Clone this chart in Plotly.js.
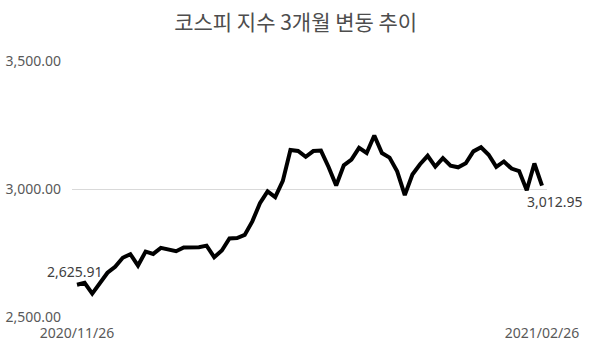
<!DOCTYPE html>
<html>
<head>
<meta charset="utf-8">
<script src="https://cdn.plot.ly/plotly-3.0.1.min.js"></script>
<style>html,body{margin:0;padding:0;background:#fff;}#chart{width:595px;height:351px;}</style>
</head>
<body>
<div id="chart"></div>
<script>
const dates = ["2020/11/26","2020/11/27","2020/11/30","2020/12/01","2020/12/02","2020/12/03","2020/12/04","2020/12/07","2020/12/08","2020/12/09","2020/12/10","2020/12/11","2020/12/14","2020/12/15","2020/12/16","2020/12/17","2020/12/18","2020/12/21","2020/12/22","2020/12/23","2020/12/24","2020/12/28","2020/12/29","2020/12/30","2021/01/04","2021/01/05","2021/01/06","2021/01/07","2021/01/08","2021/01/11","2021/01/12","2021/01/13","2021/01/14","2021/01/15","2021/01/18","2021/01/19","2021/01/20","2021/01/21","2021/01/22","2021/01/25","2021/01/26","2021/01/27","2021/01/28","2021/01/29","2021/02/01","2021/02/02","2021/02/03","2021/02/04","2021/02/05","2021/02/08","2021/02/09","2021/02/10","2021/02/15","2021/02/16","2021/02/17","2021/02/18","2021/02/19","2021/02/22","2021/02/23","2021/02/24","2021/02/25","2021/02/26"];
const kospi = [2625.91,2633.45,2591.34,2634.25,2672.76,2696.22,2731.45,2745.44,2700.93,2755.47,2746.46,2770.06,2762.20,2756.82,2771.79,2770.43,2772.18,2778.65,2733.68,2759.82,2806.86,2808.60,2820.51,2873.47,2944.45,2990.57,2968.21,3031.68,3152.18,3148.45,3125.95,3148.29,3149.93,3085.90,3013.93,3092.66,3114.55,3160.84,3140.63,3208.99,3140.31,3122.56,3069.05,2976.21,3056.53,3096.81,3129.68,3087.55,3120.63,3091.24,3084.67,3100.58,3147.00,3163.25,3133.73,3086.66,3107.62,3079.75,3070.09,2994.98,3099.69,3012.95];
const yTicks = [2500, 3000, 3500];
const yTickLabels = ["2,500.00", "3,000.00", "3,500.00"];
const xTickLabels = [dates[0], dates[dates.length - 1]];
const chartTitle = "코스피 지수 3개월 변동 추이";

const fmt = v => v.toLocaleString("en-US", {minimumFractionDigits: 2, maximumFractionDigits: 2});
const n = dates.length;
const idx = dates.map((d, i) => i);

const trace = {
  x: idx, y: kospi, type: "scatter", mode: "lines",
  line: {color: "#000000", width: 4, shape: "linear"},
  hoverinfo: "skip"
};

const layout = {
  width: 595, height: 351,
  margin: {l: 72, r: 48, t: 61, b: 34},
  paper_bgcolor: "#ffffff", plot_bgcolor: "#ffffff",
  showlegend: false,
  title: {text: chartTitle, x: 0.497, xanchor: "center", y: 0.935, yanchor: "middle",
          font: {family: "Noto Sans CJK KR, sans-serif", size: 21, color: "#4d4d4d"}},
  xaxis: {
    type: "linear", range: [-0.656, n - 1 + 0.656],
    tickmode: "array", tickvals: [0, n - 1], ticktext: xTickLabels,
    showgrid: false, zeroline: false, showline: false, ticks: "",
    ticklabelstandoff: 6,
    tickfont: {family: "Noto Sans, sans-serif", size: 14, color: "#595959"}
  },
  yaxis: {
    range: [2500, 3500],
    tickmode: "array", tickvals: yTicks, ticktext: yTickLabels,
    showgrid: true, gridcolor: "#d9d9d9", gridwidth: 1,
    zeroline: false, showline: false, ticks: "",
    ticklabelstandoff: 10,
    tickfont: {family: "Noto Sans, sans-serif", size: 14, color: "#595959"}
  },
  annotations: [
    {x: 0, y: kospi[0], xref: "x", yref: "y", text: fmt(kospi[0]), showarrow: false,
     xanchor: "center", yanchor: "middle", xshift: -2, yshift: 13,
     font: {family: "Noto Sans, sans-serif", size: 14, color: "#404040"}},
    {x: n - 1, y: kospi[n - 1], xref: "x", yref: "y", text: fmt(kospi[n - 1]), showarrow: false,
     xanchor: "center", yanchor: "middle", xshift: 13, yshift: -16,
     font: {family: "Noto Sans, sans-serif", size: 14, color: "#404040"}}
  ]
};

Plotly.newPlot("chart", [trace], layout, {displayModeBar: false, staticPlot: true});
</script>
</body>
</html>
